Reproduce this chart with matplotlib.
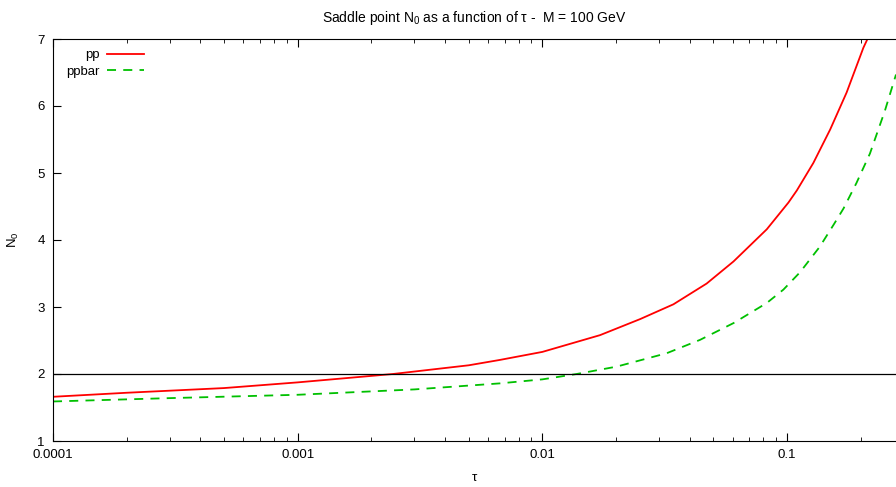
import matplotlib
matplotlib.use('Agg')
import matplotlib.pyplot as plt

plt.rcParams['font.family'] = ['Liberation Sans', 'DejaVu Sans']
plt.rcParams['mathtext.fontset'] = 'custom'
plt.rcParams['mathtext.rm'] = 'Liberation Sans'
plt.rcParams['mathtext.default'] = 'regular'

# values
tau_pp = [1e-4, 2e-4, 5e-4, 1e-3, 0.00245, 0.005, 0.0067, 0.01, 0.0172, 0.0251,
          0.0343, 0.0469, 0.0604, 0.0826, 0.1013, 0.1096, 0.128, 0.150, 0.175,
          0.205, 0.213, 0.23]
n0_pp = [1.66, 1.72, 1.79, 1.875, 2.0, 2.13, 2.21, 2.33, 2.58, 2.82,
         3.04, 3.35, 3.68, 4.16, 4.56, 4.74, 5.15, 5.65, 6.20,
         6.87, 7.0, 7.4]

tau_ppbar = [1e-4, 3e-4, 1e-3, 0.003, 0.0067, 0.01, 0.0138, 0.0201, 0.0322, 0.0441,
             0.0604, 0.0826, 0.0966, 0.113, 0.136, 0.155, 0.170, 0.192,
             0.218, 0.251, 0.2786]
n0_ppbar = [1.59, 1.64, 1.69, 1.77, 1.86, 1.92, 2.0, 2.11, 2.31, 2.51,
            2.76, 3.06, 3.26, 3.52, 3.90, 4.23, 4.47, 4.85,
            5.29, 5.93, 6.47]

xticks = [1e-4, 1e-3, 1e-2, 1e-1]
xtick_labels = ['0.0001', '0.001', '0.01', '0.1']
yticks = [1, 2, 3, 4, 5, 6, 7]

fig = plt.figure(figsize=(8.96, 4.87), dpi=100)
ax = fig.add_axes([53/896, 46/487, 843/896, 402/487])

ax.plot(tau_pp, n0_pp, color='#ff0000', lw=1.3, label='pp')
ax.plot(tau_ppbar, n0_ppbar, color='#00c000', lw=1.3, dashes=(5, 4), label='ppbar')
ax.axhline(2, color='black', lw=0.9)

ax.set_xscale('log')
ax.set_xlim(1e-4, 0.2786)
ax.set_ylim(1, 7)
ax.set_xticks(xticks, xtick_labels)
ax.set_yticks(yticks)
ax.tick_params(which='both', direction='in', top=True, right=False, labelsize=9.5, pad=6)
ax.tick_params(which='major', length=6)
ax.tick_params(which='minor', length=3)
ax.spines['right'].set_visible(False)

ax.set_xlabel('τ', fontsize=9.5, labelpad=8)
ax.set_ylabel('N$_0$', fontsize=9.5, labelpad=12)
ax.set_title('Saddle point N$_0$ as a function of τ -  M = 100 GeV', fontsize=10, pad=12)

ax.legend(loc='upper left', frameon=False, markerfirst=False, fontsize=9.5,
          handlelength=2.8, handletextpad=0.6, borderaxespad=0.2, labelspacing=0.35,
          bbox_to_anchor=(0.006, 0.995))

fig.savefig('out.png', dpi=100)
